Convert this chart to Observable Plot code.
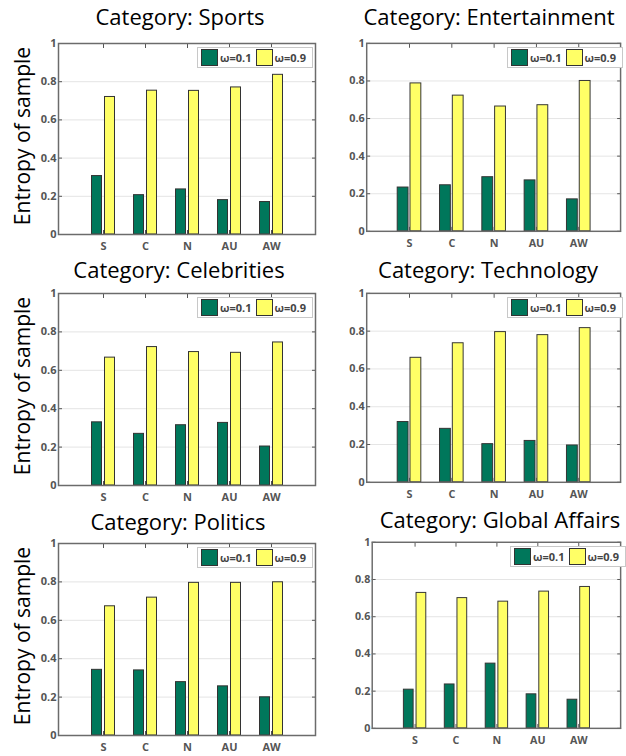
<!DOCTYPE html>
<html><head><meta charset="utf-8">
<script src="https://cdn.jsdelivr.net/npm/d3@7"></script>
<script src="https://cdn.jsdelivr.net/npm/@observablehq/plot@0.6"></script>
<style>
html,body{margin:0;padding:0;background:#fff;overflow:hidden;}
#root{position:relative;width:626px;height:756px;overflow:hidden;font-family:"Open Sans",sans-serif;}
.title{position:absolute;font-size:22px;color:#000;white-space:nowrap;transform:translateX(-50%);line-height:normal;}
.ylab{position:absolute;font-size:21px;color:#000;white-space:nowrap;transform:translate(-50%,-50%) rotate(-90deg);line-height:1;}
.panel{position:absolute;}
.legend{position:absolute;display:flex;align-items:center;box-sizing:border-box;border:1px solid #c8c8c8;background:#fff;height:21px;padding:0 2px 0 3px;font-family:"Open Sans",sans-serif;font-weight:bold;font-size:11px;color:#444;}
.sw{width:15px;height:15px;border:1px solid #333;margin-right:2px;}
.lt{margin-right:4px;}
</style></head><body><div id="root"></div><script>
const categories = ["S","C","N","AU","AW"];
const seriesNames = ["ω=0.1","ω=0.9"];
const panelTitles = ["Category: Sports","Category: Entertainment","Category: Celebrities","Category: Technology","Category: Politics","Category: Global Affairs"];
const yTicks = [0,0.2,0.4,0.6,0.8,1];
const yLabel = "Entropy of sample";

const sportsW01 = [0.306,0.206,0.236,0.180,0.170];
const sportsW09 = [0.720,0.753,0.752,0.770,0.836];
const entW01 = [0.233,0.245,0.288,0.271,0.170];
const entW09 = [0.787,0.722,0.664,0.671,0.800];
const celW01 = [0.329,0.269,0.314,0.326,0.203];
const celW09 = [0.666,0.721,0.695,0.691,0.745];
const techW01 = [0.319,0.283,0.202,0.219,0.195];
const techW09 = [0.659,0.736,0.795,0.779,0.816];
const polW01 = [0.342,0.339,0.278,0.256,0.199];
const polW09 = [0.673,0.718,0.795,0.795,0.798];
const gaW01 = [0.208,0.236,0.348,0.183,0.154];
const gaW09 = [0.728,0.700,0.681,0.735,0.760];

const lowSeries = [sportsW01, entW01, celW01, techW01, polW01, gaW01];
const highSeries = [sportsW09, entW09, celW09, techW09, polW09, gaW09];

const colors = ["#00775b","#ffff66"];

// layout (styling only)
const layout = [
  {fl:58, fw:257, ft:43, fh:191, tx:180, tt:1},
  {fl:367, fw:258, ft:43, fh:191, tx:489, tt:1},
  {fl:58, fw:257, ft:293, fh:192, tx:179, tt:254},
  {fl:367, fw:258, ft:293, fh:192, tx:488, tt:254},
  {fl:58, fw:257, ft:543, fh:192, tx:178, tt:506},
  {fl:373, fw:255, ft:542, fh:191, tx:500, tt:504}
];
const ylabY = [136, 386, 636];

const root = document.getElementById("root");

ylabY.forEach(cy => {
  const d = document.createElement("div");
  d.className = "ylab";
  d.textContent = yLabel;
  d.style.left = "22px";
  d.style.top = cy + "px";
  root.appendChild(d);
});

layout.forEach((L, k) => {
  const rows = categories.flatMap((c, i) => [
    {cat: c, series: seriesNames[0], v: lowSeries[k][i]},
    {cat: c, series: seriesNames[1], v: highSeries[k][i]}
  ]);
  const mL = 50, mR = 6, mT = 8, mB = 24;
  const chart = Plot.plot({
    width: L.fw + mL + mR,
    height: L.fh + mT + mB,
    marginLeft: mL, marginRight: mR, marginTop: mT, marginBottom: mB,
    style: {fontFamily: "'Open Sans', sans-serif", fontSize: "11px", color: "#555", background: "transparent", overflow: "visible"},
    x: {domain: categories, paddingInner: 0, paddingOuter: 0.5, label: null},
    y: {domain: [0, 1], label: null},
    color: {domain: seriesNames, range: colors},
    marks: [
      Plot.gridY(yTicks.slice(1, -1), {stroke: "#e4e4e4", strokeOpacity: 1}),
      Plot.barY(rows.filter(d => d.series === seriesNames[0]), {x: "cat", y: "v", fill: "series", stroke: "#333", strokeWidth: 1, insetLeft: 16, insetRight: 16, dx: -6.5}),
      Plot.barY(rows.filter(d => d.series === seriesNames[1]), {x: "cat", y: "v", fill: "series", stroke: "#333", strokeWidth: 1, insetLeft: 16, insetRight: 16, dx: 6.5}),
      Plot.axisY(yTicks, {anchor: "left", tickSize: -4, tickPadding: 6, tickFormat: d => String(d), fontWeight: "bold", label: null}),
      Plot.axisY(yTicks, {anchor: "right", tickSize: -4, tickFormat: () => "", label: null}),
      Plot.axisX(categories, {anchor: "bottom", tickSize: -4, tickPadding: 12, fontWeight: "bold", label: null}),
      Plot.axisX(categories, {anchor: "top", tickSize: -4, tickFormat: () => "", label: null}),
      Plot.frame({stroke: "#6b6b6b", strokeWidth: 1.5})
    ]
  });
  const p = document.createElement("div");
  p.className = "panel";
  p.style.left = (L.fl - mL) + "px";
  p.style.top = (L.ft - mT) + "px";
  p.appendChild(chart);
  root.appendChild(p);

  const t = document.createElement("div");
  t.className = "title";
  t.textContent = panelTitles[k];
  t.style.left = L.tx + "px";
  t.style.top = L.tt + "px";
  root.appendChild(t);

  const lg = document.createElement("div");
  lg.className = "legend";
  lg.style.right = (626 - (L.fl + L.fw) + 2) + "px";
  lg.style.top = (L.ft + 4) + "px";
  seriesNames.forEach((s, j) => {
    const sw = document.createElement("div");
    sw.className = "sw";
    sw.style.background = colors[j];
    const tx = document.createElement("span");
    tx.className = "lt";
    tx.textContent = s;
    lg.appendChild(sw);
    lg.appendChild(tx);
  });
  root.appendChild(lg);
});
</script></body></html>
